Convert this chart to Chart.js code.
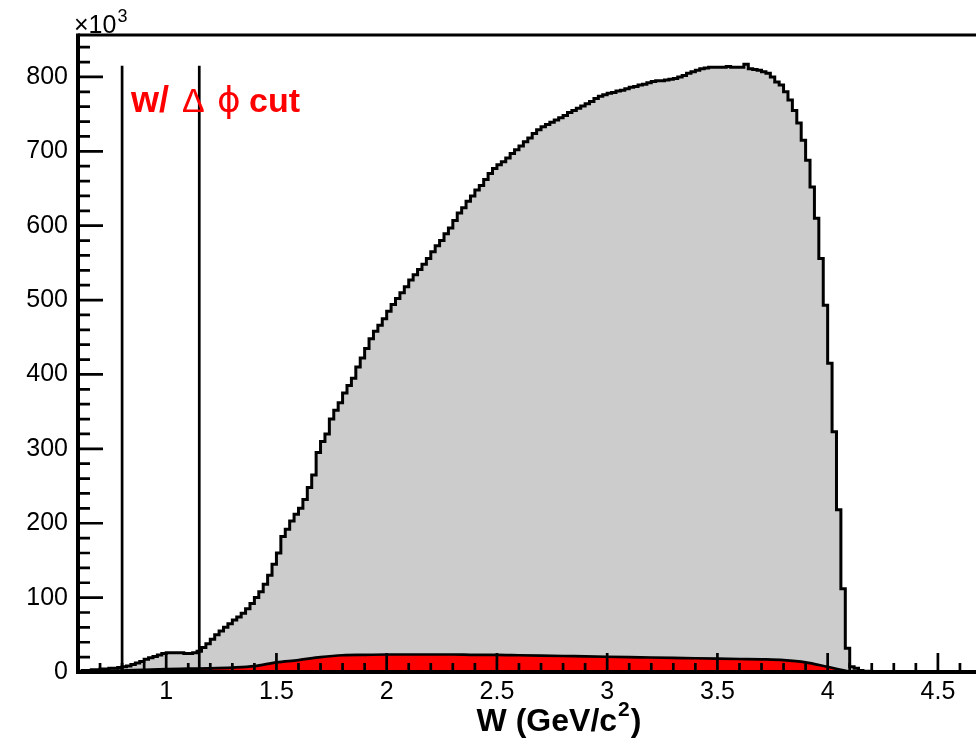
<!DOCTYPE html>
<html>
<head>
<meta charset="utf-8">
<script src="https://cdn.jsdelivr.net/npm/chart.js@4.4.1/dist/chart.umd.min.js"></script>
<style>
  html, body { margin: 0; padding: 0; background: #fff; overflow: hidden; }
  #wrap { width: 990px; height: 745px; }
</style>
</head>
<body>
<div id="wrap"><canvas id="chart" width="990" height="745"></canvas></div>
<script>
// W histogram, bins of 0.02 GeV/c^2 starting at 0.60 (counts in units of 10^3)
const binStart = 0.6;
const binWidth = 0.02;
const allCounts = [
  1, 2, 2, 3, 3, 4, 4, 5, 5, 6,               // 0.60 - 0.78
  7, 8, 10, 12, 14, 17, 19, 21, 23, 25,       // 0.80 - 0.98
  26, 26, 26, 26, 25, 25, 26, 28, 33, 38,     // 1.00 - 1.18
  44, 50, 55, 60, 65, 70, 74, 79, 85, 92,     // 1.20 - 1.38
  100, 108, 118, 130, 145, 160, 182, 192, 203, 212,
  220, 232, 248, 265, 295, 310, 320, 340, 352, 362,
  375, 385, 395, 410, 422, 435, 448, 458, 466, 475,
  485, 494, 502, 510, 518, 527, 534, 541, 548, 556,
  565, 573, 580, 589, 597, 607, 617, 624, 633, 640,
  648, 654, 662, 670, 677, 682, 686, 691, 697, 702,
  707, 713, 718, 724, 729, 733, 736, 739, 742, 745,
  748, 752, 755, 758, 761, 764, 767, 771, 774, 776,
  778, 779, 781, 782, 784, 786, 787, 789, 790, 792,
  794, 795, 795, 796, 797, 798, 800, 802, 805, 807,
  809, 811, 812, 813, 813, 813, 813, 814, 813, 813,
  813, 817, 811, 810, 809, 807, 805, 800, 793, 789,
  780, 769, 755, 738, 715, 688, 652, 610, 556, 493,
  415, 323, 218, 112, 32, 7, 5, 2, 1, 1,      // 4.00 - 4.18
  0
];

// with delta-phi cut (smooth curve)
const cutW = [0.6, 0.7, 0.8, 0.9, 1.0, 1.1, 1.2, 1.3, 1.4, 1.5, 1.6, 1.7, 1.8, 1.9,
  2.0, 2.1, 2.2, 2.3, 2.4, 2.5, 2.6, 2.7, 2.8, 2.9, 3.0, 3.1, 3.2, 3.3, 3.4, 3.5,
  3.6, 3.7, 3.8, 3.9, 4.0, 4.1, 4.2];
const cutCounts = [0, 1, 2, 3, 4, 4.5, 5, 6, 8, 13, 16, 20, 22.5, 23,
  23.5, 23.5, 23.5, 23.5, 23, 23, 22.5, 22, 21.5, 21, 20.5, 20, 19.5, 19, 18.5, 18,
  17.5, 17, 16, 13, 7, 1, 0];

// W window lines
const windowEdges = [0.8, 1.15];
const windowHeight = 815;

const xTickLabels = [1, 1.5, 2, 2.5, 3, 3.5, 4, 4.5];
const yTickLabels = [0, 100, 200, 300, 400, 500, 600, 700, 800];

const histPoints = allCounts.map((v, i) => ({ x: +(binStart + i * binWidth).toFixed(2), y: v }));
histPoints.push({ x: +(binStart + allCounts.length * binWidth).toFixed(2), y: 0 });

const cutPoints = cutW.map((w, i) => ({ x: w, y: cutCounts[i] }));

const windowSets = windowEdges.map(w => ({
  data: [{ x: w, y: 0 }, { x: w, y: windowHeight }],
  borderColor: '#000',
  borderWidth: 2.7,
  fill: false,
  order: 0
}));

// ROOT style frame, inward ticks and texts
const rootFrame = {
  id: 'rootFrame',
  afterDatasetsDraw(chart) {
    const { ctx, chartArea: a, scales: { x, y } } = chart;
    ctx.save();
    ctx.strokeStyle = '#000';
    ctx.lineCap = 'butt';

    ctx.lineWidth = 3;
    ctx.beginPath();
    ctx.moveTo(a.left, a.top - 1);
    ctx.lineTo(a.right, a.top - 1);
    ctx.lineTo(a.right, a.bottom);
    ctx.stroke();

    ctx.lineWidth = 4;
    ctx.beginPath();
    ctx.moveTo(a.left, a.top - 2.5);
    ctx.lineTo(a.left, a.bottom);
    ctx.lineTo(a.right, a.bottom);
    ctx.stroke();

    ctx.lineWidth = 2.7;
    ctx.beginPath();
    for (let i = 6; i <= 47; i++) {
      const px = x.getPixelForValue(i / 10);
      const len = i % 5 === 0 ? 19 : 9;
      ctx.moveTo(px, a.bottom);
      ctx.lineTo(px, a.bottom - len);
    }
    for (let i = 0; i <= 42; i++) {
      const py = y.getPixelForValue(i * 20);
      const len = i % 5 === 0 ? 25 : 12;
      ctx.moveTo(a.left, py);
      ctx.lineTo(a.left + len, py);
    }
    ctx.stroke();

    // x10^3
    ctx.fillStyle = '#000';
    ctx.textBaseline = 'alphabetic';
    ctx.textAlign = 'left';
    ctx.font = '25px "Liberation Sans"';
    ctx.fillText('\u00d710', 74, 33);
    const w10 = ctx.measureText('\u00d710').width;
    ctx.font = '18px "Liberation Sans"';
    ctx.fillText('3', 74 + w10 + 1, 22);

    // label
    ctx.fillStyle = '#ff0000';
    ctx.font = 'bold 36px "Liberation Sans"';
    ctx.fillText('w/', 131, 112);
    ctx.font = '34px "Liberation Sans"';
    ctx.fillText('\u0394', 182, 112);
    ctx.font = '36px "DejaVu Sans"';
    ctx.fillText('\u03d5', 217, 112);
    ctx.font = 'bold 34px "Liberation Sans"';
    ctx.fillText('cut', 249, 112);

    // x axis title
    ctx.fillStyle = '#000';
    const main = 'W (GeV/c';
    ctx.font = 'bold 32px "Liberation Sans"';
    const wMain = ctx.measureText(main).width;
    const wClose = ctx.measureText(')').width;
    ctx.font = 'bold 21px "Liberation Sans"';
    const wSup = ctx.measureText('2').width;
    const total = wMain + wSup + wClose + 2;
    let tx = 559 - total / 2;
    const base = 731;
    ctx.font = 'bold 32px "Liberation Sans"';
    ctx.fillText(main, tx, base);
    tx += wMain + 1;
    ctx.font = 'bold 21px "Liberation Sans"';
    ctx.fillText('2', tx, base - 15);
    tx += wSup + 1;
    ctx.font = 'bold 32px "Liberation Sans"';
    ctx.fillText(')', tx, base);

    ctx.restore();
  }
};

const tickFont = { family: 'Liberation Sans', size: 25 };

new Chart(document.getElementById('chart'), {
  type: 'line',
  data: {
    datasets: [
      ...windowSets,
      {
        data: cutPoints,
        borderColor: '#000',
        borderWidth: 2.7,
        backgroundColor: '#ff0000',
        fill: 'origin',
        tension: 0.4,
        cubicInterpolationMode: 'monotone',
        order: 1
      },
      {
        data: histPoints,
        borderColor: '#000',
        borderWidth: 3,
        borderJoinStyle: 'miter',
        backgroundColor: '#cccccc',
        fill: 'origin',
        stepped: 'before',
        order: 2
      }
    ]
  },
  options: {
    responsive: false,
    animation: false,
    layout: { padding: { top: 36, right: 8, left: 0, bottom: 0 } },
    elements: { point: { radius: 0 } },
    plugins: { legend: { display: false }, tooltip: { enabled: false } },
    scales: {
      x: {
        type: 'linear',
        min: 0.6,
        max: 4.7,
        grid: { display: false, drawTicks: false },
        border: { display: false },
        afterBuildTicks: s => { s.ticks = xTickLabels.map(v => ({ value: v })); },
        afterFit: s => { s.height = 73; },
        ticks: { font: tickFont, color: '#000', padding: 5, maxRotation: 0, autoSkip: false,
          callback: v => String(v) }
      },
      y: {
        type: 'linear',
        min: 0,
        max: 855,
        grid: { display: false, drawTicks: false },
        border: { display: false },
        afterBuildTicks: s => { s.ticks = yTickLabels.map(v => ({ value: v })); },
        afterFit: s => { s.width = 78; },
        ticks: { font: tickFont, color: '#000', padding: 10, autoSkip: false,
          callback: v => String(v) }
      }
    }
  },
  plugins: [rootFrame]
});
</script>
</body>
</html>
